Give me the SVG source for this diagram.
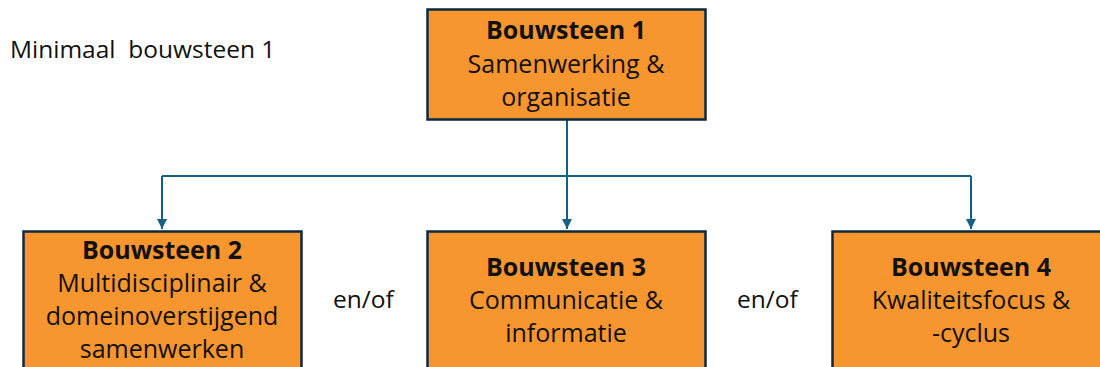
<svg xmlns="http://www.w3.org/2000/svg" width="1100" height="367" viewBox="0 0 1100 367">
<defs>
<style>
.box{fill:#F7962F;stroke:#0E2841;stroke-width:2.5}
.t{font-family:"Open Sans","Liberation Sans",sans-serif;font-size:25px;fill:#111;text-anchor:middle}
.b{font-weight:bold;font-size:25px}
.lbl{font-family:"Open Sans","Liberation Sans",sans-serif;font-size:24.5px;fill:#111;white-space:pre}
.c{fill:none;stroke:#156082;stroke-width:2}
</style>
<marker id="ah" viewBox="0 0 10 10" refX="10" refY="5" markerWidth="5" markerHeight="5" orient="auto" markerUnits="strokeWidth">
<path d="M0,0 L10,5 L0,10 z" fill="#156082"/>
</marker>
</defs>
<rect width="1100" height="367" fill="#fff"/>
<text class="lbl" x="10" y="58" xml:space="preserve">Minimaal  bouwsteen 1</text>
<g id="connectors">
<path class="c" d="M567,120 V229" marker-end="url(#ah)"/>
<path class="c" d="M162,176 H971"/>
<path class="c" d="M162,176 V229" marker-end="url(#ah)"/>
<path class="c" d="M971,176 V229" marker-end="url(#ah)"/>
</g>
<g id="node1">
<rect class="box" x="427.5" y="9.5" width="278" height="110"/>
<text class="t b" x="566" y="39">Bouwsteen 1</text>
<text class="t" x="566" y="73">Samenwerking &amp;</text>
<text class="t" x="566" y="106">organisatie</text>
</g>
<g id="node2">
<rect class="box" x="23.5" y="231.5" width="278" height="150"/>
<text class="t b" x="162" y="259">Bouwsteen 2</text>
<text class="t" x="162" y="292">Multidisciplinair &amp;</text>
<text class="t" x="162" y="325">domeinoverstijgend</text>
<text class="t" x="162" y="358">samenwerken</text>
</g>
<g id="node3">
<rect class="box" x="427.5" y="231.5" width="278" height="150"/>
<text class="t b" x="566" y="276">Bouwsteen 3</text>
<text class="t" x="566" y="309">Communicatie &amp;</text>
<text class="t" x="566" y="342">informatie</text>
</g>
<g id="node4">
<rect class="box" x="832.5" y="231.5" width="278" height="150"/>
<text class="t b" x="971" y="276">Bouwsteen 4</text>
<text class="t" x="971" y="309">Kwaliteitsfocus &amp;</text>
<text class="t" x="971" y="342">-cyclus</text>
</g>
<text class="lbl" x="333" y="308">en/of</text>
<text class="lbl" x="737" y="308">en/of</text>
</svg>
